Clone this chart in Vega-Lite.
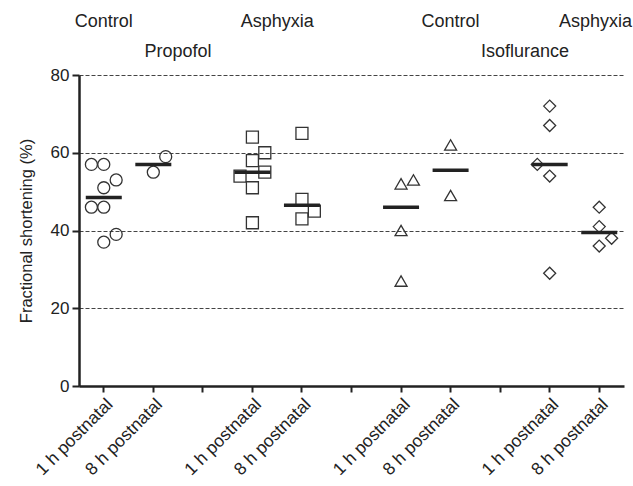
{
  "$schema": "https://vega.github.io/schema/vega-lite/v6.json",
  "width": 545,
  "height": 311,
  "padding": {"left": 18, "top": 12, "right": 5, "bottom": 5},
  "background": "white",
  "config": {
    "view": {"stroke": null},
    "font": "Liberation Sans",
    "axis": {"labelFont": "Liberation Sans", "titleFont": "Liberation Sans", "labelColor": "#222", "titleColor": "#222", "domainColor": "#222", "tickColor": "#222"}
  },
  "datasets": {
    "points": [
      {"slot": "P-C-1", "group": "Propofol Control", "value": 57, "col": "L"},
      {"slot": "P-C-1", "group": "Propofol Control", "value": 57, "col": "C"},
      {"slot": "P-C-1", "group": "Propofol Control", "value": 53, "col": "R"},
      {"slot": "P-C-1", "group": "Propofol Control", "value": 51, "col": "C"},
      {"slot": "P-C-1", "group": "Propofol Control", "value": 46, "col": "L"},
      {"slot": "P-C-1", "group": "Propofol Control", "value": 46, "col": "C"},
      {"slot": "P-C-1", "group": "Propofol Control", "value": 39, "col": "R"},
      {"slot": "P-C-1", "group": "Propofol Control", "value": 37, "col": "C"},
      {"slot": "P-C-8", "group": "Propofol Control", "value": 59, "col": "R"},
      {"slot": "P-C-8", "group": "Propofol Control", "value": 55, "col": "C"},
      {"slot": "P-A-1", "group": "Propofol Asphyxia", "value": 64, "col": "C"},
      {"slot": "P-A-1", "group": "Propofol Asphyxia", "value": 60, "col": "R"},
      {"slot": "P-A-1", "group": "Propofol Asphyxia", "value": 58, "col": "C"},
      {"slot": "P-A-1", "group": "Propofol Asphyxia", "value": 55, "col": "R"},
      {"slot": "P-A-1", "group": "Propofol Asphyxia", "value": 54, "col": "L"},
      {"slot": "P-A-1", "group": "Propofol Asphyxia", "value": 51, "col": "C"},
      {"slot": "P-A-1", "group": "Propofol Asphyxia", "value": 42, "col": "C"},
      {"slot": "P-A-8", "group": "Propofol Asphyxia", "value": 65, "col": "C"},
      {"slot": "P-A-8", "group": "Propofol Asphyxia", "value": 48, "col": "C"},
      {"slot": "P-A-8", "group": "Propofol Asphyxia", "value": 45, "col": "R"},
      {"slot": "P-A-8", "group": "Propofol Asphyxia", "value": 43, "col": "C"},
      {"slot": "I-C-1", "group": "Isoflurane Control", "value": 53, "col": "R"},
      {"slot": "I-C-1", "group": "Isoflurane Control", "value": 52, "col": "C"},
      {"slot": "I-C-1", "group": "Isoflurane Control", "value": 40, "col": "C"},
      {"slot": "I-C-1", "group": "Isoflurane Control", "value": 27, "col": "C"},
      {"slot": "I-C-8", "group": "Isoflurane Control", "value": 62, "col": "C"},
      {"slot": "I-C-8", "group": "Isoflurane Control", "value": 49, "col": "C"},
      {"slot": "I-A-1", "group": "Isoflurane Asphyxia", "value": 72, "col": "C"},
      {"slot": "I-A-1", "group": "Isoflurane Asphyxia", "value": 67, "col": "C"},
      {"slot": "I-A-1", "group": "Isoflurane Asphyxia", "value": 57, "col": "L"},
      {"slot": "I-A-1", "group": "Isoflurane Asphyxia", "value": 54, "col": "C"},
      {"slot": "I-A-1", "group": "Isoflurane Asphyxia", "value": 29, "col": "C"},
      {"slot": "I-A-8", "group": "Isoflurane Asphyxia", "value": 46, "col": "C"},
      {"slot": "I-A-8", "group": "Isoflurane Asphyxia", "value": 41, "col": "C"},
      {"slot": "I-A-8", "group": "Isoflurane Asphyxia", "value": 38, "col": "R"},
      {"slot": "I-A-8", "group": "Isoflurane Asphyxia", "value": 36, "col": "C"}
    ],
    "headersCenter": [
      {"label": "Control", "slot": "P-C-1"},
      {"label": "Control", "slot": "I-C-8"}
    ],
    "headersRight": [
      {"label": "Asphyxia", "slot": "I-A-8"}
    ],
    "headersEdge": [
      {"label": "Asphyxia", "slot": "P-A-1", "row": "top"},
      {"label": "Propofol", "slot": "P-C-8", "row": "bottom"},
      {"label": "Isoflurance", "slot": "gap3", "row": "bottom"}
    ]
  },
  "layer": [
    {
      "data": {"name": "points"},
      "mark": {"type": "point", "filled": false, "strokeWidth": 1.3, "color": "#333", "opacity": 1},
      "encoding": {
        "x": {
          "field": "slot", "type": "nominal",
          "scale": {"domain": ["P-C-1", "P-C-8", "gap1", "P-A-1", "P-A-8", "gap2", "I-C-1", "I-C-8", "gap3", "I-A-1", "I-A-8"], "paddingInner": 0, "paddingOuter": 0},
          "axis": {
            "title": null,
            "labelExpr": "indexof(datum.value,'-1')>=0 ? '1 h postnatal' : (indexof(datum.value,'-8')>=0 ? '8 h postnatal' : '')",
            "labelAngle": -45, "labelFontSize": 17.5, "labelPadding": 3,
            "domainWidth": 2.5, "tickWidth": 2, "tickSize": 6, "grid": false
          }
        },
        "xOffset": {"field": "col", "type": "nominal", "scale": {"domain": ["L", "C", "R"], "paddingInner": 0, "paddingOuter": 1.25}},
        "y": {
          "field": "value", "type": "quantitative",
          "scale": {"domain": [0, 80], "nice": false, "zero": true},
          "axis": {
            "title": "Fractional shortening (%)", "titleFontSize": 16.5, "titleFontWeight": "normal", "titlePadding": 16,
            "values": [0, 20, 40, 60, 80], "labelFontSize": 17, "labelPadding": 3,
            "domainWidth": 2.5, "tickWidth": 2, "tickSize": 7,
            "grid": true, "gridDash": [4, 2], "gridColor": "#444", "gridWidth": 1
          }
        },
        "shape": {"field": "group", "type": "nominal", "legend": null,
          "scale": {"domain": ["Propofol Control", "Propofol Asphyxia", "Isoflurane Control", "Isoflurane Asphyxia"], "range": ["circle", "square", "triangle-up", "diamond"]}},
        "size": {"field": "group", "type": "nominal", "legend": null,
          "scale": {"domain": ["Propofol Control", "Propofol Asphyxia", "Isoflurane Control", "Isoflurane Asphyxia"], "range": [144, 144, 165, 235]}}
      }
    },
    {
      "data": {"name": "points"},
      "mark": {"type": "tick", "thickness": 3.5, "size": 36, "color": "#222", "opacity": 1},
      "encoding": {
        "x": {"field": "slot", "type": "nominal"},
        "y": {"aggregate": "median", "field": "value", "type": "quantitative"}
      }
    },
    {
      "data": {"name": "headersCenter"},
      "mark": {"type": "text", "fontSize": 18, "color": "#222", "baseline": "alphabetic", "align": "center"},
      "encoding": {
        "x": {"field": "slot", "type": "nominal"},
        "y": {"datum": 92.4, "type": "quantitative"},
        "text": {"field": "label"}
      }
    },
    {
      "data": {"name": "headersRight"},
      "mark": {"type": "text", "fontSize": 18, "color": "#222", "baseline": "alphabetic", "align": "right", "dx": 8},
      "encoding": {
        "x": {"field": "slot", "type": "nominal", "bandPosition": 1},
        "y": {"datum": 92.4, "type": "quantitative"},
        "text": {"field": "label"}
      }
    },
    {
      "data": {"name": "headersEdge"},
      "transform": [{"filter": "datum.row == 'top'"}],
      "mark": {"type": "text", "fontSize": 18, "color": "#222", "baseline": "alphabetic", "align": "center"},
      "encoding": {
        "x": {"field": "slot", "type": "nominal", "bandPosition": 1},
        "y": {"datum": 92.4, "type": "quantitative"},
        "text": {"field": "label"}
      }
    },
    {
      "data": {"name": "headersEdge"},
      "transform": [{"filter": "datum.row == 'bottom'"}],
      "mark": {"type": "text", "fontSize": 18, "color": "#222", "baseline": "alphabetic", "align": "center"},
      "encoding": {
        "x": {"field": "slot", "type": "nominal", "bandPosition": 1},
        "y": {"datum": 84.6, "type": "quantitative"},
        "text": {"field": "label"}
      }
    }
  ]
}
